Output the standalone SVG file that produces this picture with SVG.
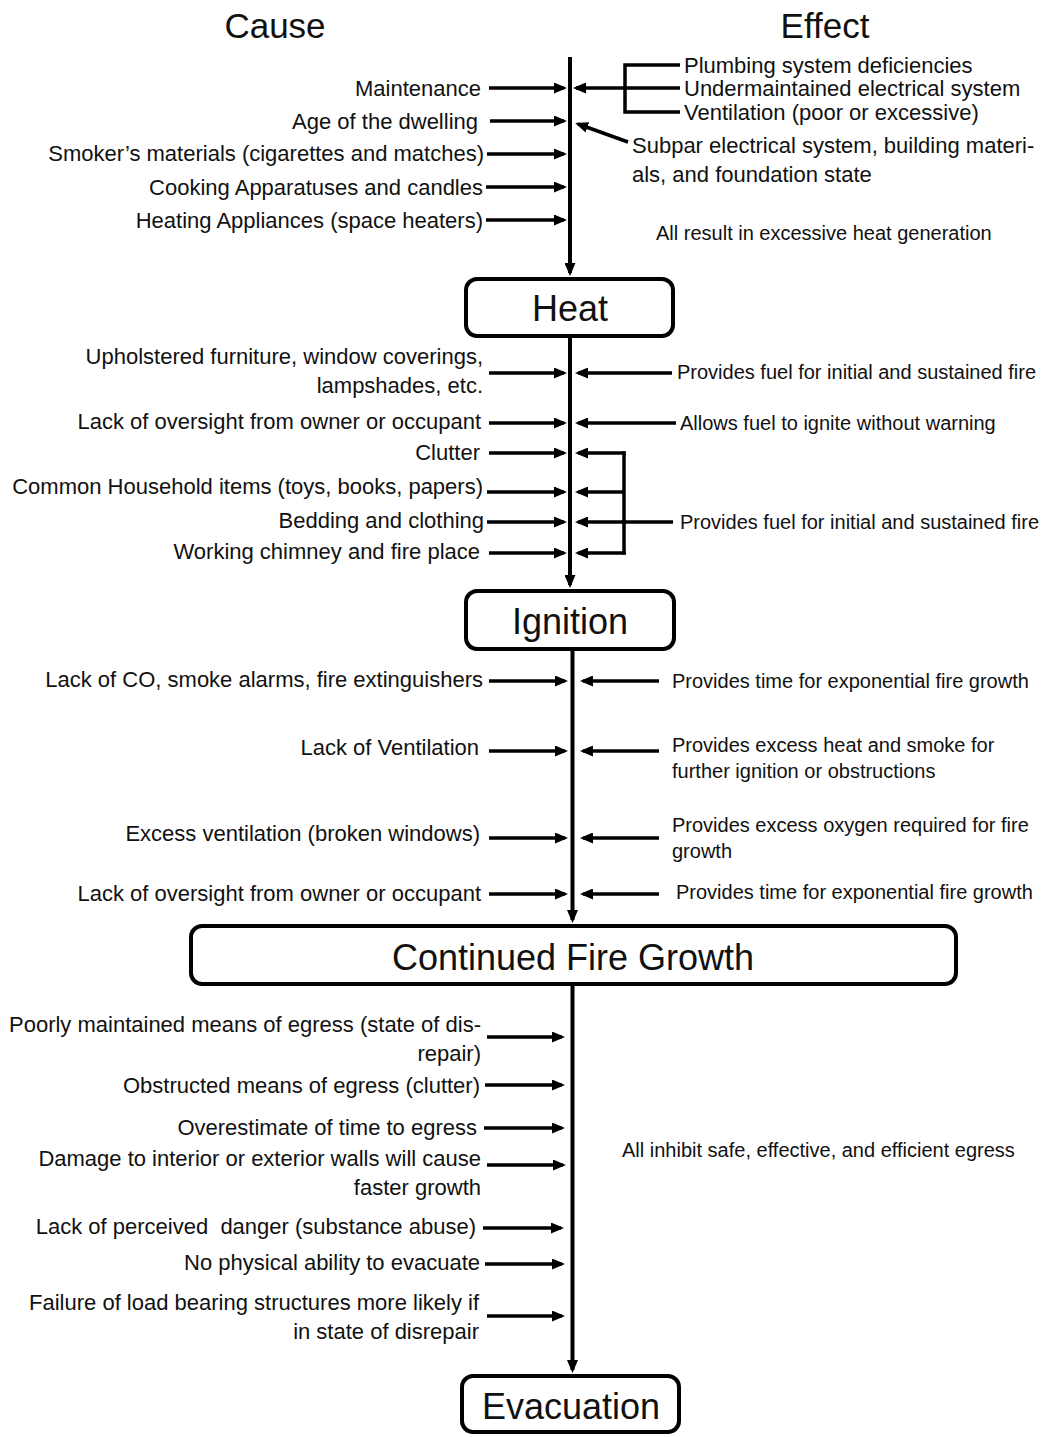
<svg xmlns="http://www.w3.org/2000/svg" width="1045" height="1437" viewBox="0 0 1045 1437">
<defs>
<marker id="ah" markerUnits="userSpaceOnUse" viewBox="0 0 13 11" markerWidth="13" markerHeight="11" refX="10" refY="5.5" orient="auto"><path d="M0,0 L13,5.5 L0,11 z" fill="#000"/></marker>
<style>
text{font-family:"Liberation Sans",Arial,sans-serif;fill:#111}
.h{font-size:35px;text-anchor:middle}
.b{font-size:36px;text-anchor:middle}
.c{font-size:22px;text-anchor:end}
.e{font-size:22px}
.s{font-size:20px}
.box{fill:#fff;stroke:#000;stroke-width:4}
.ln{stroke:#000;stroke-width:3.5;fill:none}
.ar{stroke:#000;stroke-width:3.5;fill:none;marker-end:url(#ah)}
.main{stroke:#000;stroke-width:4;fill:none;marker-end:url(#ah)}
</style>
</defs>
<rect width="1045" height="1437" fill="#fff"/>

<g id="headings">
<text class="h" x="275" y="38">Cause</text>
<text class="h" x="825" y="38">Effect</text>
</g>

<g id="connectors">
<line class="main" x1="570" y1="57" x2="570" y2="273"/>
<line class="main" x1="570" y1="338" x2="570" y2="585"/>
<line class="main" x1="572.5" y1="651" x2="572.5" y2="920"/>
<line class="main" x1="572.5" y1="986" x2="572.5" y2="1370"/>

<line class="ar" x1="489" y1="88" x2="564" y2="88"/>
<line class="ar" x1="490" y1="121" x2="564" y2="121"/>
<line class="ar" x1="487" y1="154" x2="564" y2="154"/>
<line class="ar" x1="486" y1="187" x2="564" y2="187"/>
<line class="ar" x1="486" y1="220" x2="564" y2="220"/>
<polyline class="ln" points="680,65 625,65 625,112 680,112"/>
<line class="ar" x1="680" y1="88" x2="576" y2="88"/>
<line class="ar" x1="628" y1="142" x2="578" y2="124"/>

<line class="ar" x1="489" y1="373" x2="564" y2="373"/>
<line class="ar" x1="489" y1="423" x2="564" y2="423"/>
<line class="ar" x1="489" y1="453" x2="564" y2="453"/>
<line class="ar" x1="487" y1="492" x2="564" y2="492"/>
<line class="ar" x1="487" y1="522" x2="564" y2="522"/>
<line class="ar" x1="489" y1="553" x2="564" y2="553"/>
<line class="ar" x1="672" y1="373" x2="578" y2="373"/>
<line class="ar" x1="676" y1="423" x2="578" y2="423"/>
<line class="ln" x1="624" y1="451.3" x2="624" y2="554.7"/>
<line class="ar" x1="625.7" y1="453" x2="578" y2="453"/>
<line class="ar" x1="624" y1="492" x2="578" y2="492"/>
<line class="ar" x1="673" y1="522" x2="578" y2="522"/>
<line class="ar" x1="625.7" y1="553" x2="578" y2="553"/>

<line class="ar" x1="489" y1="681" x2="565" y2="681"/>
<line class="ar" x1="489" y1="751" x2="565" y2="751"/>
<line class="ar" x1="489" y1="838" x2="565" y2="838"/>
<line class="ar" x1="489" y1="894" x2="565" y2="894"/>
<line class="ar" x1="659" y1="681" x2="583" y2="681"/>
<line class="ar" x1="659" y1="751" x2="583" y2="751"/>
<line class="ar" x1="659" y1="838" x2="583" y2="838"/>
<line class="ar" x1="659" y1="894" x2="583" y2="894"/>

<line class="ar" x1="487" y1="1037" x2="562" y2="1037"/>
<line class="ar" x1="485" y1="1085" x2="562" y2="1085"/>
<line class="ar" x1="484" y1="1128" x2="562" y2="1128"/>
<line class="ar" x1="487" y1="1165" x2="563" y2="1165"/>
<line class="ar" x1="483" y1="1228" x2="561" y2="1228"/>
<line class="ar" x1="485" y1="1264" x2="562" y2="1264"/>
<line class="ar" x1="487" y1="1316" x2="562" y2="1316"/>
</g>

<g id="node-heat">
<rect class="box" x="466" y="279" width="207" height="57" rx="11"/>
<text class="b" x="570" y="321">Heat</text>
</g>
<g id="node-ignition">
<rect class="box" x="466" y="591" width="208" height="58" rx="11"/>
<text class="b" x="570" y="634">Ignition</text>
</g>
<g id="node-continued-fire-growth">
<rect class="box" x="191" y="926" width="765" height="58" rx="11"/>
<text class="b" x="573" y="970">Continued Fire Growth</text>
</g>
<g id="node-evacuation">
<rect class="box" x="462" y="1376" width="217" height="56" rx="11"/>
<text class="b" x="571" y="1419">Evacuation</text>
</g>

<g id="causes-heat">
<text class="c" x="481" y="96">Maintenance</text>
<text class="c" x="478" y="129">Age of the dwelling</text>
<text class="c" x="484" y="161">Smoker’s materials (cigarettes and matches)</text>
<text class="c" x="483" y="195">Cooking Apparatuses and candles</text>
<text class="c" x="483" y="228">Heating Appliances (space heaters)</text>
</g>
<g id="effects-heat">
<text class="e" x="684" y="73">Plumbing system deficiencies</text>
<text class="e" x="684" y="96">Undermaintained electrical system</text>
<text class="e" x="684" y="120">Ventilation (poor or excessive)</text>
<text class="e" x="632" y="153">Subpar electrical system, building materi-</text>
<text class="e" x="632" y="182">als, and foundation state</text>
<text class="s" x="656" y="240">All result in excessive heat generation</text>
</g>

<g id="causes-ignition">
<text class="c" x="483" y="364">Upholstered furniture, window coverings,</text>
<text class="c" x="483" y="393">lampshades, etc.</text>
<text class="c" x="481" y="429">Lack of oversight from owner or occupant</text>
<text class="c" x="480" y="460">Clutter</text>
<text class="c" x="483" y="494">Common Household items (toys, books, papers)</text>
<text class="c" x="484" y="528">Bedding and clothing</text>
<text class="c" x="480" y="559">Working chimney and fire place</text>
</g>
<g id="effects-ignition">
<text class="s" x="677" y="379">Provides fuel for initial and sustained fire</text>
<text class="s" x="680" y="430">Allows fuel to ignite without warning</text>
<text class="s" x="680" y="529">Provides fuel for initial and sustained fire</text>
</g>

<g id="causes-growth">
<text class="c" x="483" y="687">Lack of CO, smoke alarms, fire extinguishers</text>
<text class="c" x="479" y="755">Lack of Ventilation</text>
<text class="c" x="480" y="841">Excess ventilation (broken windows)</text>
<text class="c" x="481" y="901">Lack of oversight from owner or occupant</text>
</g>
<g id="effects-growth">
<text class="s" x="672" y="688">Provides time for exponential fire growth</text>
<text class="s" x="672" y="752">Provides excess heat and smoke for</text>
<text class="s" x="672" y="778">further ignition or obstructions</text>
<text class="s" x="672" y="832">Provides excess oxygen required for fire</text>
<text class="s" x="672" y="858">growth</text>
<text class="s" x="676" y="899">Provides time for exponential fire growth</text>
</g>

<g id="causes-evacuation">
<text class="c" x="481" y="1032">Poorly maintained means of egress (state of dis-</text>
<text class="c" x="481" y="1061">repair)</text>
<text class="c" x="480" y="1093">Obstructed means of egress (clutter)</text>
<text class="c" x="477" y="1135">Overestimate of time to egress</text>
<text class="c" x="481" y="1166">Damage to interior or exterior walls will cause</text>
<text class="c" x="481" y="1195">faster growth</text>
<text class="c" x="476" y="1234">Lack of perceived&#160; danger (substance abuse)</text>
<text class="c" x="480" y="1270">No physical ability to evacuate</text>
<text class="c" x="479" y="1310">Failure of load bearing structures more likely if</text>
<text class="c" x="479" y="1339">in state of disrepair</text>
</g>
<g id="effects-evacuation">
<text class="s" x="622" y="1157">All inhibit safe, effective, and efficient egress</text>
</g>
</svg>
